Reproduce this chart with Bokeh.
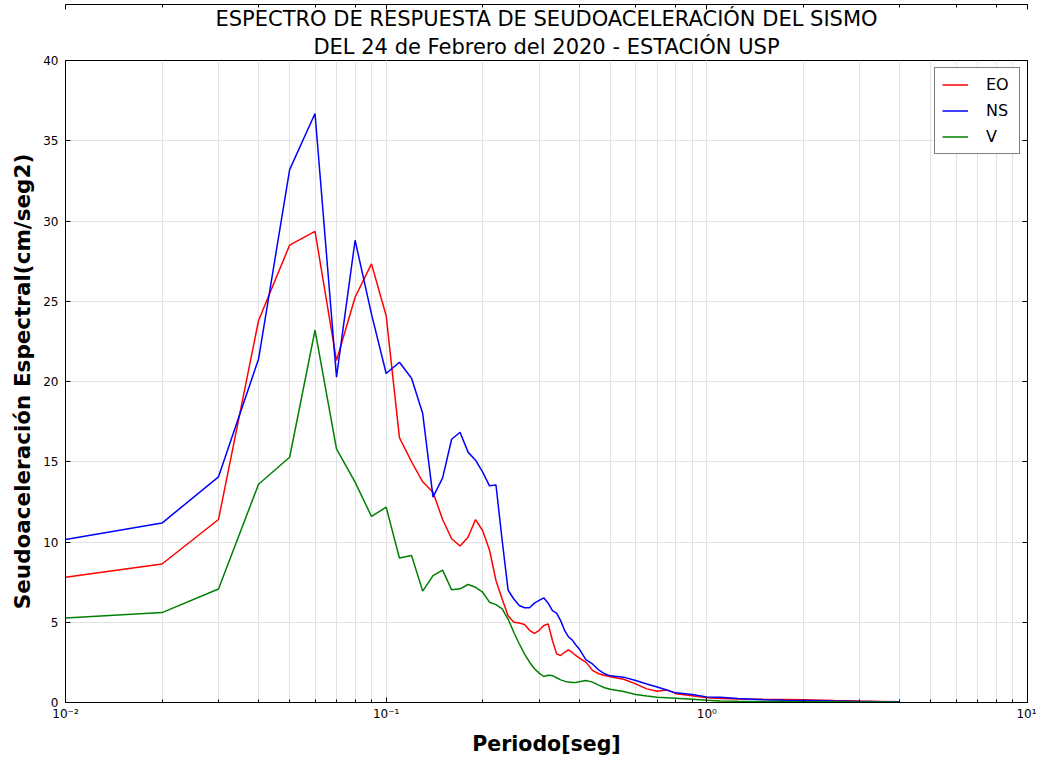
from bokeh.plotting import figure
from bokeh.embed import file_html
from bokeh.resources import INLINE
from bokeh.models import (LogAxis, LinearAxis, Title, CustomJSTickFormatter, LogTicker,
                          SingleIntervalTicker, Legend, LegendItem)

# ---- data ----
periodo = [0.01, 0.02, 0.03, 0.04, 0.05, 0.06, 0.07, 0.08, 0.09, 0.10,
           0.11, 0.12, 0.13, 0.14, 0.15, 0.16, 0.17, 0.18, 0.19, 0.20,
           0.21, 0.22, 0.23, 0.24, 0.25, 0.26, 0.27, 0.28, 0.29, 0.30,
           0.31, 0.32, 0.33, 0.34, 0.35, 0.36, 0.37, 0.38, 0.39, 0.40,
           0.42, 0.44, 0.46, 0.48, 0.50, 0.55, 0.60, 0.65, 0.70, 0.75,
           0.80, 0.90, 1.0, 1.1, 1.25, 1.5, 1.75, 2.0, 2.5, 3.0, 3.5, 4.0]

eo = [7.8, 8.63, 11.4, 23.8, 28.5, 29.35, 21.3, 25.25, 27.33, 24.1,
      16.5, 15.0, 13.75, 13.1, 11.4, 10.2, 9.75, 10.3, 11.4, 10.7,
      9.5, 7.6, 6.45, 5.4, 5.0, 4.95, 4.86, 4.5, 4.3, 4.5,
      4.8, 4.9, 3.86, 3.03, 2.93, 3.13, 3.28, 3.13, 2.93, 2.78,
      2.5, 2.0, 1.79, 1.68, 1.6, 1.45, 1.16, 0.85, 0.7, 0.79,
      0.55, 0.42, 0.3, 0.25, 0.22, 0.2, 0.19, 0.17, 0.12, 0.09, 0.07, 0.05]

ns = [10.15, 11.18, 14.06, 21.4, 33.2, 36.7, 20.27, 28.8, 24.2, 20.5,
      21.2, 20.2, 18.0, 12.8, 14.0, 16.4, 16.84, 15.6, 15.1, 14.35,
      13.5, 13.55, 10.1, 7.0, 6.45, 6.04, 5.9, 5.9, 6.19, 6.36,
      6.52, 6.19, 5.73, 5.57, 5.1, 4.5, 4.1, 3.9, 3.6, 3.34,
      2.65, 2.4, 2.03, 1.79, 1.66, 1.58, 1.37, 1.15, 0.96, 0.78,
      0.6, 0.5, 0.35, 0.33, 0.25, 0.17, 0.14, 0.12, 0.09, 0.07, 0.05, 0.04]

v = [5.27, 5.6, 7.07, 13.6, 15.28, 23.2, 15.8, 13.73, 11.59, 12.17,
     9.0, 9.16, 6.94, 7.9, 8.25, 7.02, 7.08, 7.35, 7.18, 6.87,
     6.25, 6.1, 5.84, 5.2, 4.38, 3.66, 3.03, 2.51, 2.1, 1.83,
     1.62, 1.7, 1.68, 1.54, 1.41, 1.33, 1.27, 1.25, 1.25, 1.29,
     1.37, 1.27, 1.08, 0.92, 0.82, 0.69, 0.5, 0.4, 0.33, 0.3,
     0.27, 0.21, 0.14, 0.1, 0.08, 0.07, 0.06, 0.05, 0.04, 0.03, 0.03, 0.02]

series_names = ["EO", "NS", "V"]
series_colors = ["#ff0000", "#0000ff", "#008000"]

title_lines = ["ESPECTRO DE RESPUESTA DE SEUDOACELERACIÓN DEL SISMO",
               "DEL 24 de Febrero del 2020 - ESTACIÓN USP"]

FONT = "DejaVu Sans"

p = figure(width=1036, height=758, x_axis_type="log", x_range=(0.01, 10), y_range=(0, 40),
           output_backend="svg", toolbar_location=None,
           min_border_left=65, min_border_right=9, min_border_top=60, min_border_bottom=54)
p.title = None

# titles (later added goes higher)
p.add_layout(Title(text=title_lines[1], align="center", text_font=FONT, text_font_size="21px",
                   text_font_style="normal", text_color="black", standoff=4), "above")
p.add_layout(Title(text=title_lines[0], align="center", text_font=FONT, text_font_size="21px",
                   text_font_style="normal", text_color="black", standoff=0), "above")

renderers = []
for vals, c in zip([eo, ns, v], series_colors):
    r = p.line(periodo, vals, line_color=c, line_width=1.5)
    renderers.append(r)

sup_code = """
const e = Math.round(Math.log10(tick));
const sup = {"-2": "\\u207b\\u00b2", "-1": "\\u207b\\u00b9", "0": "\\u2070", "1": "\\u00b9"};
const s = sup[String(e)];
return "10" + (s !== undefined ? s : String(e));
"""
xa = p.xaxis[0]
xa.formatter = CustomJSTickFormatter(code=sup_code)
xa.axis_label = "Periodo[seg]"
ya = p.yaxis[0]
ya.ticker = SingleIntervalTicker(interval=5, num_minor_ticks=0)
ya.axis_label = "Seudoaceleración Espectral(cm/seg2)"

for ax in [xa, ya]:
    ax.axis_label_text_font = FONT
    ax.axis_label_text_font_style = "bold"
    ax.axis_label_text_color = "black"
    ax.major_label_text_font = FONT
    ax.major_label_text_font_size = "12px"
    ax.major_label_text_color = "black"
    ax.axis_line_color = "black"
    ax.major_tick_line_color = "black"
    ax.minor_tick_line_color = "black"
    ax.major_tick_in = 5
    ax.major_tick_out = 0
    ax.minor_tick_in = 3
    ax.minor_tick_out = 0
xa.axis_label_text_font_size = "20.5px"
ya.axis_label_text_font_size = "21.5px"
xa.major_label_standoff = 4
ya.major_label_standoff = 7
xa.axis_label_standoff = 8
ya.axis_label_standoff = 5

top = LogAxis(ticker=LogTicker(), major_label_text_font_size="1px", major_label_text_alpha=0,
              major_tick_in=5, major_tick_out=0, axis_label_standoff=0,
              minor_tick_in=3, minor_tick_out=0, axis_line_color="black",
              major_label_standoff=0)
p.add_layout(top, "above")
right = LinearAxis(ticker=SingleIntervalTicker(interval=5, num_minor_ticks=0),
                   major_label_text_font_size="1px", major_label_text_alpha=0,
                   major_tick_in=5, major_tick_out=0, axis_label_standoff=0,
                   minor_tick_out=0, axis_line_color="black", major_label_standoff=0)
p.add_layout(right, "right")

p.xgrid.grid_line_color = "#e3e3e3"
p.xgrid.minor_grid_line_color = "#e3e3e3"
p.ygrid.grid_line_color = "#e3e3e3"
p.outline_line_color = "black"
p.background_fill_color = "white"
p.border_fill_color = "white"

legend = Legend(items=[LegendItem(label=n, renderers=[r]) for n, r in zip(series_names, renderers)],
                location="top_right", margin=7, padding=7, glyph_width=26, glyph_height=17,
                label_height=17, label_width=26, label_standoff=18, spacing=7,
                label_text_font=FONT, label_text_font_size="16px", label_text_color="black",
                border_line_color="black", border_line_width=1, background_fill_alpha=1.0)
p.add_layout(legend)

open("out.html", "w").write(file_html(p, INLINE))
